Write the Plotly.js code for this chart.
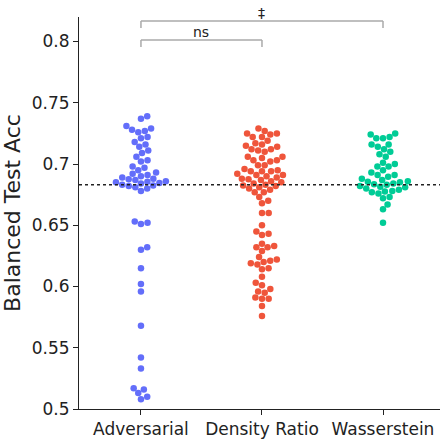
<!DOCTYPE html>
<html>
<head>
<meta charset="utf-8">
<script src="https://cdn.plot.ly/plotly-3.0.1.min.js"></script>
<style>html,body{margin:0;padding:0;background:#fff;}</style>
</head>
<body>
<div id="chart" style="width:441px;height:440px;"></div>
<script>
const categories = ["Adversarial", "Density Ratio", "Wasserstein"];
const colors = ["#636EFA", "#EF553B", "#00CC96"];

const adversarial = [0.739, 0.737, 0.731, 0.729, 0.728, 0.727, 0.726, 0.722, 0.721, 0.718, 0.716, 0.714, 0.711, 0.709, 0.706, 0.703, 0.702, 0.698, 0.697, 0.695, 0.693, 0.692, 0.691,
  0.690, 0.689, 0.688, 0.6875, 0.687, 0.686, 0.6855, 0.685, 0.6845, 0.684, 0.683, 0.6825, 0.682, 0.681, 0.680, 0.678,
  0.653, 0.652, 0.651, 0.632, 0.630, 0.615, 0.602, 0.596, 0.568, 0.542, 0.533, 0.517, 0.516, 0.513, 0.510, 0.508];

const densityRatio = [0.729, 0.727, 0.725, 0.725, 0.724, 0.722, 0.722, 0.719, 0.717, 0.716, 0.715, 0.714, 0.712, 0.712, 0.711, 0.710, 0.706, 0.706, 0.705, 0.703, 0.703, 0.702, 0.699, 0.699, 0.696, 0.695, 0.694, 0.694, 0.694, 0.692, 0.691, 0.691, 0.690, 0.689,
  0.688, 0.6875, 0.687, 0.686, 0.685, 0.684, 0.683, 0.6825, 0.682, 0.681, 0.680,
  0.679, 0.677, 0.677, 0.673, 0.670, 0.668, 0.660, 0.660, 0.650, 0.645, 0.643, 0.642, 0.635, 0.633, 0.632, 0.632, 0.629, 0.624, 0.622, 0.621, 0.620, 0.619, 0.618, 0.615, 0.614, 0.608, 0.603, 0.601, 0.598, 0.596, 0.595, 0.591, 0.590, 0.590, 0.584, 0.576];

const wasserstein = [0.725, 0.724, 0.722, 0.721, 0.721, 0.716, 0.716, 0.714, 0.712, 0.710, 0.708, 0.706, 0.701, 0.700, 0.698, 0.698, 0.695, 0.693, 0.691, 0.691,
  0.6895, 0.688, 0.687, 0.686, 0.6855, 0.685, 0.684, 0.6835, 0.683, 0.682, 0.6815, 0.681, 0.680, 0.679, 0.678, 0.6775, 0.677, 0.676,
  0.673, 0.672, 0.667, 0.663, 0.652];

const referenceLine = 0.683;
const yTicks = [0.5, 0.55, 0.6, 0.65, 0.7, 0.75, 0.8];
const comparisons = [
  {from: 0, to: 1, label: "ns", y: 0.8012},
  {from: 0, to: 2, label: "‡", y: 0.8167}
];

// layout geometry
const W = 441, H = 440;
const margin = {l: 79, r: 1, t: 17, b: 31};
const xRange = [-0.512, 2.471];
const yRange = [0.5, 0.82];
const pxPerX = (W - margin.l - margin.r) / (xRange[1] - xRange[0]);
const pxPerY = (H - margin.t - margin.b) / (yRange[1] - yRange[0]);
const markerSize = 6.5;

// beeswarm: compute horizontal offsets (in px) so markers do not overlap
function beeswarm(values, d) {
  const idx = values.map((v, i) => i).sort((a, b) => values[a] - values[b]);
  const placed = [];
  const offs = new Array(values.length).fill(0);
  for (const i of idx) {
    const y = values[i] * pxPerY;
    const near = placed.filter(p => Math.abs(p.y - y) < d);
    const cands = [0];
    for (const p of near) {
      const dx = Math.sqrt(d * d - (p.y - y) * (p.y - y));
      cands.push(p.x + dx, p.x - dx);
    }
    cands.sort((a, b) => Math.abs(a) - Math.abs(b));
    let chosen = 0;
    for (const c of cands) {
      let ok = true;
      for (const p of near) {
        const dd = (p.x - c) * (p.x - c) + (p.y - y) * (p.y - y);
        if (dd < d * d - 1e-6) { ok = false; break; }
      }
      if (ok) { chosen = c; break; }
    }
    placed.push({x: chosen, y: y});
    offs[i] = chosen;
  }
  return offs;
}

const groups = [adversarial, densityRatio, wasserstein];
const traces = groups.map((vals, g) => {
  const offs = beeswarm(vals, markerSize + 0.2);
  return {
    type: "scatter",
    mode: "markers",
    x: offs.map(o => g + o / pxPerX),
    y: vals,
    marker: {color: colors[g], size: markerSize, line: {width: 0}},
    name: categories[g],
    showlegend: false,
    hoverinfo: "y"
  };
});

const shapes = [{
  type: "line", xref: "paper", yref: "y", x0: 0, x1: 1, y0: referenceLine, y1: referenceLine,
  line: {color: "#222", width: 1.6, dash: "dot"}
}];
const annotations = [];
const tickDrop = 0.0057;
comparisons.forEach(c => {
  const bracketLine = {color: "#aaaaaa", width: 1.5};
  shapes.push({type: "line", xref: "x", yref: "y", x0: c.from, x1: c.to, y0: c.y, y1: c.y, line: bracketLine});
  shapes.push({type: "line", xref: "x", yref: "y", x0: c.from, x1: c.from, y0: c.y, y1: c.y - tickDrop, line: bracketLine});
  shapes.push({type: "line", xref: "x", yref: "y", x0: c.to, x1: c.to, y0: c.y, y1: c.y - tickDrop, line: bracketLine});
  annotations.push({x: (c.from + c.to) / 2, y: c.y, xref: "x", yref: "y", text: c.label, showarrow: false,
    yanchor: "bottom", yshift: -2, font: {size: 14, color: "#222"}});
});

const layout = {
  width: W, height: H,
  margin: margin,
  paper_bgcolor: "#fff", plot_bgcolor: "#fff",
  font: {family: "DejaVu Sans, Verdana, sans-serif", color: "#222"},
  showlegend: false,
  xaxis: {
    range: xRange, tickvals: [0, 1, 2], ticktext: categories,
    showline: true, linecolor: "#222", linewidth: 1,
    ticks: "outside", ticklen: 5, tickcolor: "#222",
    showgrid: false, zeroline: false, tickfont: {size: 17, color: "#222"}
  },
  yaxis: {
    range: yRange, tickvals: yTicks, ticktext: yTicks.map(v => String(v)),
    showline: true, linecolor: "#222", linewidth: 1,
    ticks: "outside", ticklen: 5, tickcolor: "#222",
    showgrid: false, zeroline: false, tickfont: {size: 17, color: "#222"},
    title: {text: "Balanced Test Acc", font: {size: 22, color: "#222"}, standoff: 9}
  },
  shapes: shapes,
  annotations: annotations
};

Plotly.newPlot("chart", traces, layout, {displayModeBar: false, staticPlot: true});
</script>
</body>
</html>
